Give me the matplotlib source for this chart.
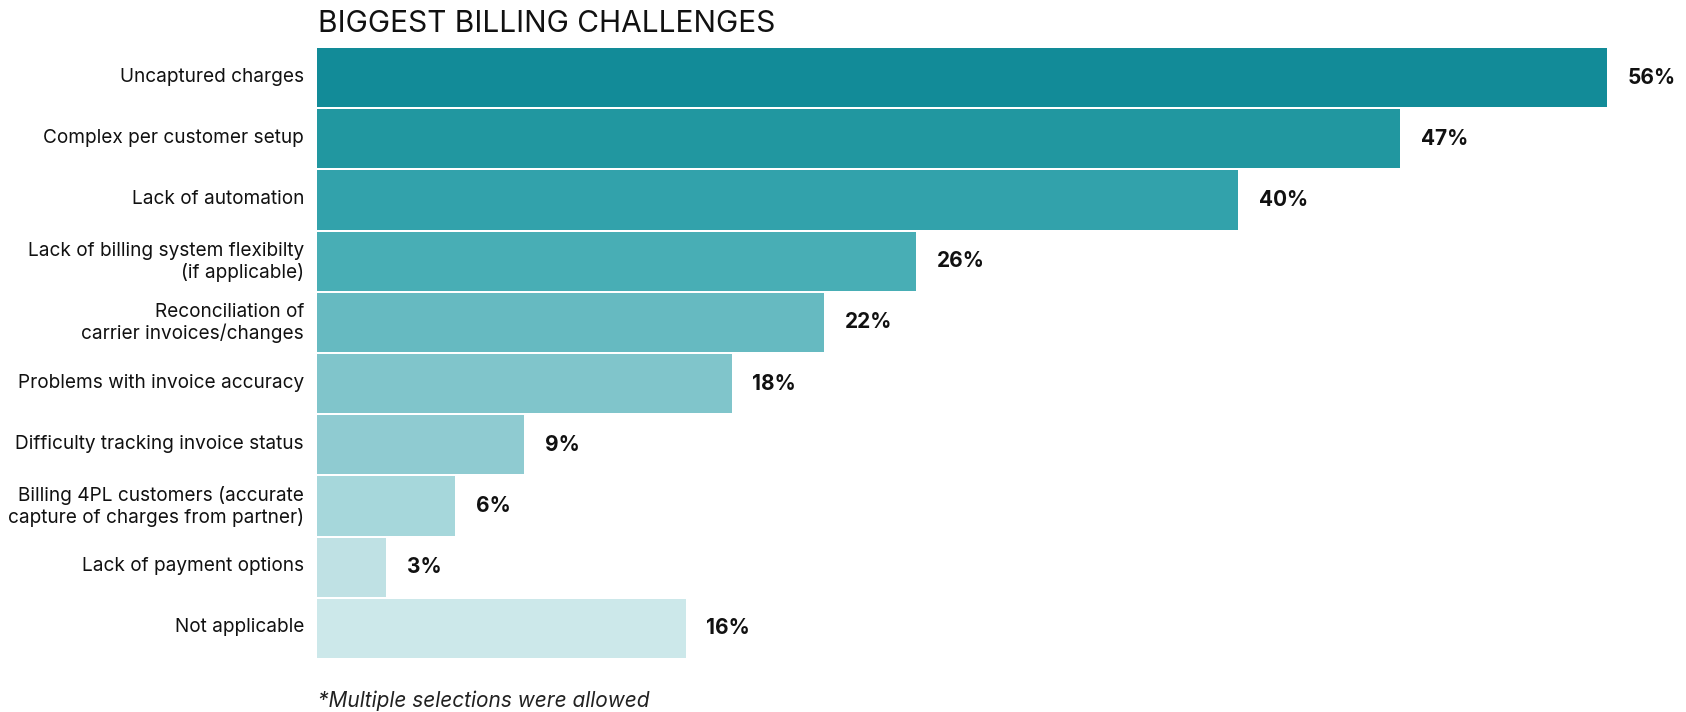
import matplotlib
matplotlib.use("Agg")
import matplotlib.pyplot as plt
import matplotlib.transforms as mtransforms

plt.rcParams['font.family'] = ['Inter', 'DejaVu Sans']

categories = [
    "Uncaptured charges",
    "Complex per customer setup",
    "Lack of automation",
    "Lack of billing system flexibilty\n(if applicable)",
    "Reconciliation of\ncarrier invoices/changes",
    "Problems with invoice accuracy",
    "Difficulty tracking invoice status",
    "Billing 4PL customers (accurate\ncapture of charges from partner)",
    "Lack of payment options",
    "Not applicable",
]
values = [56, 47, 40, 26, 22, 18, 9, 6, 3, 16]
colors = [
    "#128b98", "#2197a0", "#32a2ab", "#48aeb5", "#66bac1",
    "#80c5cb", "#8fcbd1", "#a6d7db", "#bfe1e4", "#cce8ea",
]
title = "BIGGEST BILLING CHALLENGES"
footnote = "*Multiple selections were allowed"

W, H = 1686, 712
fig = plt.figure(figsize=(W / 100, H / 100), dpi=100)
left_px, right_px = 317, 1607
top_px, bottom_px = 47, 659
ax = fig.add_axes([left_px / W, 1 - bottom_px / H,
                   (right_px - left_px) / W, (bottom_px - top_px) / H])

ypos = list(range(len(categories)))
ax.barh(ypos, values, height=0.965, color=colors, edgecolor="none")
ax.set_xlim(0, max(values))
ax.set_ylim(len(categories) - 0.5, -0.5)

ax.set_yticks(ypos)
ax.set_yticklabels(categories, fontsize=13.7, color="#111111",
                   ha="right", linespacing=1.2)
ax.tick_params(axis="y", length=0, pad=9.4)
# nudge the category labels slightly upward
lift = mtransforms.ScaledTranslation(0, 3 / 100, fig.dpi_scale_trans)
for lbl in ax.get_yticklabels():
    lbl.set_transform(lbl.get_transform() + lift)
ax.set_xticks([])
for s in ax.spines.values():
    s.set_visible(False)

for y, v in zip(ypos, values):
    ax.annotate(f"{v}%", xy=(v, y), xytext=(15, 0), textcoords="offset points",
                ha="left", va="center", fontsize=15, fontweight="bold",
                color="#111111", annotation_clip=False)

fig.text(318 / W, 1 - 32 / H, title, fontsize=21.5, color="#111111",
         ha="left", va="baseline")
fig.text(318 / W, 1 - 707 / H, footnote, fontsize=15, style="italic",
         color="#222222", ha="left", va="baseline")

fig.savefig("out.png", dpi=100)
